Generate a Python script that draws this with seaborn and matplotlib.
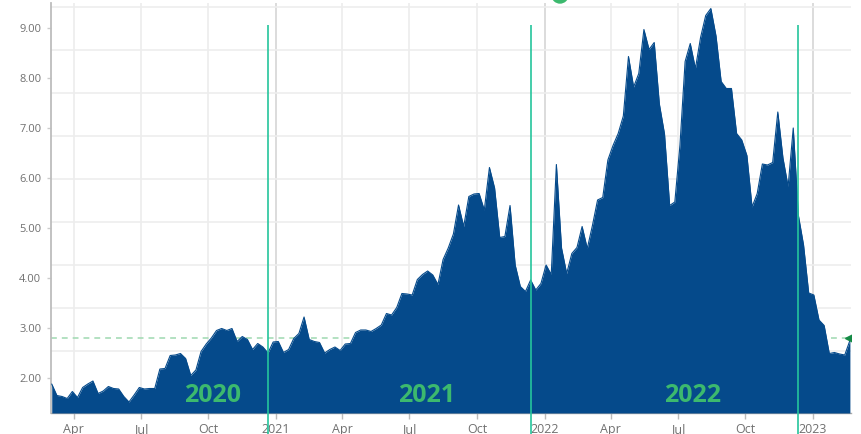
import numpy as np
import pandas as pd
import matplotlib.pyplot as plt
import matplotlib.dates as mdates
from matplotlib.patches import Ellipse
from matplotlib.ticker import FixedLocator
import seaborn as sns

# weekly values, first week 2020-03-02
start = '2020-03-02'
values = [
    1.88, 1.65, 1.63, 1.59, 1.73, 1.61, 1.81, 1.88, 1.94, 1.69,
    1.74, 1.83, 1.79, 1.78, 1.63, 1.52, 1.66, 1.81, 1.78, 1.79,
    1.79, 2.18, 2.19, 2.45, 2.46, 2.49, 2.39, 2.05, 2.16, 2.53,
    2.68, 2.80, 2.95, 2.99, 2.95, 2.99, 2.73, 2.83, 2.77, 2.57,
    2.69, 2.62, 2.50, 2.72, 2.73, 2.51, 2.57, 2.79, 2.89, 3.22,
    2.77, 2.73, 2.71, 2.50, 2.57, 2.62, 2.55, 2.68, 2.69, 2.91,
    2.96, 2.96, 2.93, 2.99, 3.06, 3.29, 3.26, 3.41, 3.69, 3.68,
    3.66, 3.97, 4.07, 4.14, 4.06, 3.87, 4.37, 4.60, 4.88, 5.46,
    5.03, 5.63, 5.68, 5.69, 5.36, 6.21, 5.80, 4.81, 4.83, 5.45,
    4.26, 3.83, 3.73, 3.96, 3.76, 3.89, 4.26, 4.07, 6.27, 4.60,
    4.09, 4.49, 4.61, 5.03, 4.59, 5.05, 5.56, 5.61, 6.36, 6.65,
    6.89, 7.24, 8.43, 7.82, 8.09, 8.97, 8.57, 8.71, 7.48, 6.88,
    5.45, 5.52, 6.66, 8.33, 8.69, 8.19, 8.81, 9.25, 9.39, 8.84,
    7.93, 7.79, 7.79, 6.89, 6.76, 6.45, 5.42, 5.69, 6.28, 6.26,
    6.31, 7.32, 6.40, 5.83, 7.00, 5.25, 4.66, 3.70, 3.66, 3.16,
    3.05, 2.49, 2.51, 2.48, 2.46, 2.75,
]
dates = pd.date_range(start, periods=len(values), freq='7D')
df = pd.DataFrame({'date': dates, 'value': values})

# year separators (last data week of each year) and labels
year_end_weeks = ['2020-12-21', '2021-12-13', '2022-12-12']
year_labels = ['2020', '2021', '2022']
year_label_dates = ['2020-10-06', '2021-07-24', '2022-07-21']
ref_level = 2.81
y_ticks = [2, 3, 4, 5, 6, 7, 8, 9]

BLUE = '#054a8b'
GREEN = '#3cb96e'
TEAL = '#25c59c'

sns.set_theme(style='white')
plt.rcParams['font.family'] = ['Open Sans', 'DejaVu Sans']

fig = plt.figure(figsize=(8.61, 4.34), dpi=100)
ax = fig.add_axes([51 / 861, 21 / 434, 800 / 861, 410 / 434])

ax.axhline(ref_level, color='#a6dbb6', lw=1.2, dashes=(3.5, 3), zorder=2)
ax.fill_between(df['date'], df['value'], 1.3, color=BLUE, lw=0, zorder=3)
sns.lineplot(data=df, x='date', y='value', ax=ax, color=BLUE, lw=0.8, zorder=3)

ax.set_xlim(dates[0] - pd.Timedelta(days=1), dates[-1] + pd.Timedelta(days=1.5))
ax.set_ylim(1.3, 9.5)
ax.set_xlabel('')
ax.set_ylabel('')

# marker at the right end of the reference line
ax.plot([ax.get_xlim()[1]], [ref_level], marker='<', ms=9, color='#148a45',
        clip_on=True, zorder=5)

ax.vlines(pd.to_datetime(year_end_weeks), 0.85, 9.06, color=TEAL, lw=1.2,
          clip_on=False, zorder=4)

for lab, d in zip(year_labels, year_label_dates):
    ax.text(pd.Timestamp(d), 1.64, lab, ha='center', va='center', fontsize=18,
            fontweight='bold', color=GREEN, zorder=5)

# axes ticks
ax.xaxis.set_major_locator(mdates.YearLocator())
ax.xaxis.set_major_formatter(mdates.DateFormatter('%Y'))
ax.xaxis.set_minor_locator(mdates.MonthLocator(bymonth=[4, 7, 10]))
ax.xaxis.set_minor_formatter(mdates.DateFormatter('%b'))
ax.set_yticks(y_ticks)
ax.set_yticklabels([f'{v:.2f}' for v in y_ticks])
ax.yaxis.set_minor_locator(FixedLocator(np.arange(2.54, 9.5, 0.86)))

ax.tick_params(axis='x', which='both', bottom=True, length=4, width=1,
               color='#bbbbbb', labelsize=9, labelcolor='#707070', pad=3)
ax.tick_params(axis='y', which='major', left=True, length=3, width=1,
               color='#cccccc', labelsize=8, labelcolor='#707070', pad=4)
ax.tick_params(axis='y', which='minor', left=False, length=0)

ax.set_axisbelow(True)
ax.grid(axis='x', which='major', color='#d6d6d6', lw=1.2)
ax.grid(axis='x', which='minor', color='#ececec', lw=1.2)
ax.grid(axis='y', which='minor', color='#ededed', lw=1.2)
ax.grid(axis='y', which='major', visible=False)

for side in ['top', 'right']:
    ax.spines[side].set_visible(False)
ax.spines['left'].set_color('#bdbdbd')
ax.spines['left'].set_linewidth(1.3)
ax.spines['bottom'].set_color('#aaaaaa')
ax.spines['bottom'].set_linewidth(1.0)

# cut-off title mark at the top edge
fig.patches.append(Ellipse((560 / 861, 439 / 434), 16 / 861, 16 / 434,
                           transform=fig.transFigure, color=GREEN))

fig.savefig('out.png', dpi=100)
